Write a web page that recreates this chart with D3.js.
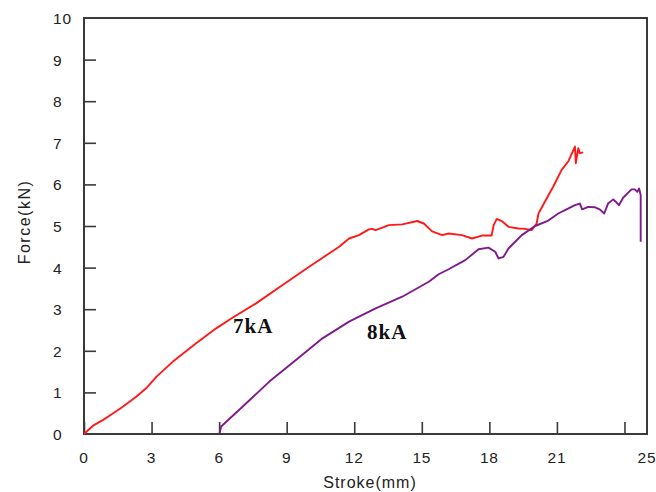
<!DOCTYPE html>
<html>
<head>
<meta charset="utf-8">
<script src="https://cdn.jsdelivr.net/npm/d3@7"></script>
<style>
  body { margin: 0; background: #fff; }
</style>
</head>
<body>
<svg id="chart" width="656" height="492" font-family="'Liberation Sans', Arial, sans-serif"></svg>
<script>
// stroke (mm) / force (kN)
var stroke7 = [0, 0.4, 0.85, 1.3, 1.74, 2.33, 2.8, 3.22, 3.95, 4.98, 5.87, 6.61, 7.64, 8.82, 10.0, 10.88, 11.33, 11.77, 12.21, 12.65, 12.8, 12.95, 13.54, 14.13, 14.8, 15.09, 15.46, 15.9, 16.19, 16.78, 17.23, 17.67, 18.1, 18.19, 18.33, 18.55, 18.85, 19.29, 19.59, 19.88, 20.1, 20.18, 20.47, 20.84, 21.21, 21.5, 21.8, 21.84, 21.95, 22.02, 22.17];
var force7  = [0, 0.2, 0.34, 0.5, 0.66, 0.9, 1.12, 1.38, 1.74, 2.18, 2.54, 2.8, 3.14, 3.58, 4.02, 4.34, 4.5, 4.7, 4.78, 4.92, 4.93, 4.9, 5.02, 5.04, 5.12, 5.06, 4.87, 4.78, 4.82, 4.78, 4.7, 4.77, 4.77, 5.02, 5.17, 5.12, 4.98, 4.94, 4.93, 4.9, 5.06, 5.3, 5.59, 5.95, 6.35, 6.55, 6.91, 6.51, 6.87, 6.75, 6.77];

var stroke8 = [6.02, 6.09, 7.05, 8.23, 9.41, 10.59, 11.77, 12.95, 14.13, 15.31, 15.75, 16.19, 16.93, 17.52, 17.96, 18.26, 18.41, 18.63, 18.85, 19.29, 19.44, 20.03, 20.62, 21.06, 21.36, 21.8, 22.02, 22.12, 22.39, 22.69, 22.9, 23.1, 23.27, 23.5, 23.6, 23.75, 23.94, 24.31, 24.46, 24.57, 24.65, 24.72, 24.72];
var force8  = [0.02, 0.18, 0.66, 1.26, 1.78, 2.3, 2.7, 3.02, 3.3, 3.66, 3.84, 3.96, 4.18, 4.44, 4.48, 4.38, 4.22, 4.26, 4.46, 4.7, 4.78, 5.0, 5.13, 5.3, 5.38, 5.5, 5.54, 5.4, 5.46, 5.45, 5.4, 5.3, 5.54, 5.64, 5.59, 5.5, 5.68, 5.88, 5.88, 5.82, 5.9, 5.74, 4.62];

var xTicks = [0, 3, 6, 9, 12, 15, 18, 21, 24];
var xLabels = [0, 3, 6, 9, 12, 15, 18, 21, 25];
var yTicks = [0, 1, 2, 3, 4, 5, 6, 7, 8, 9, 10];

var svg = d3.select("#chart");
var plotLeft = 84, plotTop = 18, plotRight = 647, plotBottom = 434;

var x = d3.scaleLinear().domain([0, 25]).range([plotLeft, plotRight]);
var y = d3.scaleLinear().domain([0, 10]).range([plotBottom, plotTop]);

var axisColor = "#3a3a3a";
var textColor = "#222";

// ticks, drawn inward
svg.append("g")
    .attr("transform", "translate(0," + plotBottom + ")")
    .call(d3.axisTop(x).tickValues(xTicks).tickSize(12).tickFormat(""))
    .call(function(g) { g.select(".domain").remove(); })
    .selectAll("line").attr("stroke", axisColor).attr("stroke-width", 1.6);

svg.append("g")
    .attr("transform", "translate(" + plotLeft + ",0)")
    .call(d3.axisRight(y).tickValues(yTicks.slice(1, 10)).tickSize(12).tickFormat(""))
    .call(function(g) { g.select(".domain").remove(); })
    .selectAll("line").attr("stroke", axisColor).attr("stroke-width", 1.6);

// frame
svg.append("rect")
    .attr("x", plotLeft).attr("y", plotTop)
    .attr("width", plotRight - plotLeft).attr("height", plotBottom - plotTop)
    .attr("fill", "none").attr("stroke", axisColor).attr("stroke-width", 2);

// tick labels
svg.append("g").selectAll("text")
    .data(xLabels)
    .enter().append("text")
    .attr("x", function(d) { return x(d); })
    .attr("y", 463)
    .attr("text-anchor", "middle")
    .attr("font-size", 15.5)
    .attr("letter-spacing", 0.8)
    .attr("fill", textColor)
    .text(function(d) { return d; });

svg.append("g").selectAll("text")
    .data(yTicks)
    .enter().append("text")
    .attr("x", 53)
    .attr("y", function(d) { return y(d) + 6; })
    .attr("font-size", 15.5)
    .attr("letter-spacing", 0.8)
    .attr("fill", textColor)
    .text(function(d) { return d; });

// axis titles
svg.append("text")
    .attr("x", 370).attr("y", 488)
    .attr("text-anchor", "middle")
    .attr("font-size", 16)
    .attr("letter-spacing", 1)
    .attr("fill", textColor)
    .text("Stroke(mm)");

svg.append("text")
    .attr("transform", "translate(30,222) rotate(-90)")
    .attr("text-anchor", "middle")
    .attr("font-size", 16)
    .attr("letter-spacing", 1.5)
    .attr("fill", textColor)
    .text("Force(kN)");

// curves
var line = d3.line()
    .x(function(d) { return x(d[0]); })
    .y(function(d) { return y(d[1]); });

svg.append("path")
    .datum(d3.zip(stroke7, force7))
    .attr("fill", "none")
    .attr("stroke", "#ff1a1a")
    .attr("stroke-width", 1.9)
    .attr("stroke-linejoin", "round")
    .attr("d", line);

svg.append("path")
    .datum(d3.zip(stroke8, force8))
    .attr("fill", "none")
    .attr("stroke", "#7f1a8c")
    .attr("stroke-width", 1.9)
    .attr("stroke-linejoin", "round")
    .attr("d", line);

// curve labels
var serif = "'Liberation Serif', 'Times New Roman', serif";
svg.append("text")
    .attr("x", 233).attr("y", 333)
    .attr("font-family", serif)
    .attr("font-weight", "bold")
    .attr("font-size", 21)
    .attr("letter-spacing", 1)
    .attr("fill", "#111")
    .text("7kA");

svg.append("text")
    .attr("x", 367).attr("y", 339)
    .attr("font-family", serif)
    .attr("font-weight", "bold")
    .attr("font-size", 21)
    .attr("letter-spacing", 1)
    .attr("fill", "#111")
    .text("8kA");
</script>
</body>
</html>
